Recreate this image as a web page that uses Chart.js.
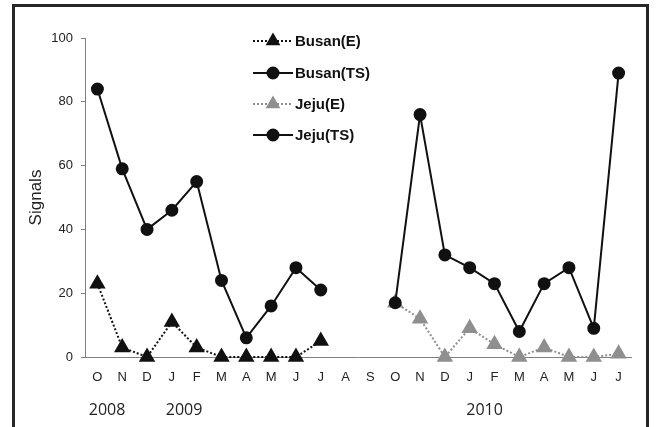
<!DOCTYPE html>
<html>
<head>
<meta charset="utf-8">
<script src="https://cdn.jsdelivr.net/npm/chart.js@4"></script>
<style>
  body { margin: 0; background: #fff; }
  #wrap { position: relative; width: 656px; height: 427px; overflow: hidden; }
  #frame { position: absolute; left: 12px; top: 4px; width: 631px; height: 500px;
           border: 3px solid #262626; border-bottom: none; pointer-events: none; }
  canvas { position: absolute; left: 0; top: 0; }
</style>
</head>
<body>
<div id="wrap">
  <canvas id="chart" width="656" height="427"></canvas>
  <div id="frame"></div>
</div>
<script>
// Months from Oct 2008 to Jul 2010
const months = ['O', 'N', 'D', 'J', 'F', 'M', 'A', 'M', 'J', 'J', 'A',
                'S', 'O', 'N', 'D', 'J', 'F', 'M', 'A', 'M', 'J', 'J'];

const busanE  = [23, 3, 0, 11, 3, 0, 0, 0, 0, 5, null, null, null, null, null, null, null, null, null, null, null, null];
const busanTS = [84, 59, 40, 46, 55, 24, 6, 16, 28, 21, null, null, null, null, null, null, null, null, null, null, null, null];
const jejuE   = [null, null, null, null, null, null, null, null, null, null, null, null, 17, 12, 0, 9, 4, 0, 3, 0, 0, 1];
const jejuTS  = [null, null, null, null, null, null, null, null, null, null, null, null, 17, 76, 32, 28, 23, 8, 23, 28, 9, 89];

// year labels, placed along the month index
const yearLabels = ['2008', '2009', '2010'];
const yearPos = [0.39, 3.49, 15.6];

const yTicks = [0, 20, 40, 60, 80, 100];

const black = '#111';
const gray = '#8f8f8f';
const sans = 'Arial, "Liberation Sans", sans-serif';

// legend drawn inside the plot, one row per dataset
const legendPlugin = {
    id: 'insideLegend',
    afterDraw(chart) {
        const ctx = chart.ctx;
        const rows = [41, 73, 104, 135];
        const x0 = 253, x1 = 293;
        chart.data.datasets.forEach((ds, i) => {
            const y = rows[i];
            ctx.save();
            ctx.strokeStyle = ds.borderColor;
            ctx.lineWidth = ds.borderWidth;
            ctx.setLineDash(ds.borderDash || []);
            ctx.beginPath();
            ctx.moveTo(x0, y);
            ctx.lineTo(x1, y);
            ctx.stroke();
            ctx.setLineDash([]);
            ctx.fillStyle = ds.pointBackgroundColor;
            ctx.strokeStyle = ds.pointBorderColor;
            Chart.helpers.drawPoint(ctx, {
                pointStyle: ds.pointStyle,
                rotation: 0,
                radius: ds.pointStyle === 'triangle' ? 6.5 : 5.5,
                borderWidth: 1,
            }, (x0 + x1) / 2, y);
            ctx.fillStyle = '#111';
            ctx.font = 'bold 15px ' + sans;
            ctx.textBaseline = 'middle';
            ctx.textAlign = 'left';
            ctx.fillText(ds.label, x1 + 2, y + 1);
            ctx.restore();
        });
    },
};

const ctx = document.getElementById('chart').getContext('2d');
const chart = new Chart(ctx, {
    type: 'line',
    data: {
        labels: months,
        datasets: [
            {
                label: 'Busan(E)',
                data: busanE,
                borderColor: black,
                borderWidth: 2,
                borderDash: [2, 2],
                pointStyle: 'triangle',
                pointRadius: 7.5,
                pointBackgroundColor: black,
                pointBorderColor: black,
                order: 1,
            },
            {
                label: 'Busan(TS)',
                data: busanTS,
                borderColor: black,
                borderWidth: 2,
                pointStyle: 'circle',
                pointRadius: 5.5,
                pointBackgroundColor: black,
                pointBorderColor: black,
                order: 0,
            },
            {
                label: 'Jeju(E)',
                data: jejuE,
                borderColor: gray,
                borderWidth: 2,
                borderDash: [2, 2],
                pointStyle: 'triangle',
                pointRadius: 7.5,
                pointBackgroundColor: gray,
                pointBorderColor: gray,
                order: 1,
            },
            {
                label: 'Jeju(TS)',
                data: jejuTS,
                borderColor: black,
                borderWidth: 2,
                pointStyle: 'circle',
                pointRadius: 5.5,
                pointBackgroundColor: black,
                pointBorderColor: black,
                order: 0,
            },
        ],
    },
    options: {
        responsive: false,
        animation: false,
        spanGaps: false,
        clip: false,
        layout: {
            padding: { left: 24, top: 38, right: 25, bottom: 0 },
        },
        elements: {
            line: { tension: 0 },
            point: { borderWidth: 1, hoverRadius: 6 },
        },
        scales: {
            y: {
                min: 0,
                max: 100,
                afterBuildTicks: (axis) => {
                    axis.ticks = yTicks.map(v => ({ value: v }));
                },
                afterFit: (axis) => { axis.width = 61; },
                grid: {
                    drawOnChartArea: false,
                    color: '#808080',
                    tickLength: 4,
                },
                border: { color: '#808080', width: 1 },
                ticks: {
                    color: '#222',
                    padding: 8,
                    font: { family: sans, size: 13 },
                },
                title: {
                    display: true,
                    text: 'Signals',
                    color: '#222',
                    font: { family: sans, size: 17 },
                    padding: { top: 2, bottom: 4 },
                },
            },
            x: {
                type: 'category',
                offset: true,
                afterFit: (axis) => { axis.height = 33; },
                grid: { display: false, drawTicks: false },
                border: { color: '#808080', width: 1 },
                ticks: {
                    color: '#222',
                    padding: 13,
                    autoSkip: false,
                    maxRotation: 0,
                    font: { family: sans, size: 13 },
                },
            },
            x2: {
                type: 'linear',
                position: 'bottom',
                min: -0.5,
                max: 21.5,
                afterBuildTicks: (axis) => {
                    axis.ticks = yearPos.map(v => ({ value: v }));
                },
                afterFit: (axis) => { axis.height = 37; },
                grid: { display: false, drawTicks: false },
                border: { display: false },
                ticks: {
                    color: '#222',
                    padding: 11,
                    autoSkip: false,
                    maxRotation: 0,
                    callback: (v, i) => yearLabels[i],
                    font: { family: '"Open Sans", sans-serif', size: 16 },
                },
            },
        },
        plugins: {
            legend: { display: false },
            tooltip: { enabled: false },
        },
    },
    plugins: [legendPlugin],
});
</script>
</body>
</html>
